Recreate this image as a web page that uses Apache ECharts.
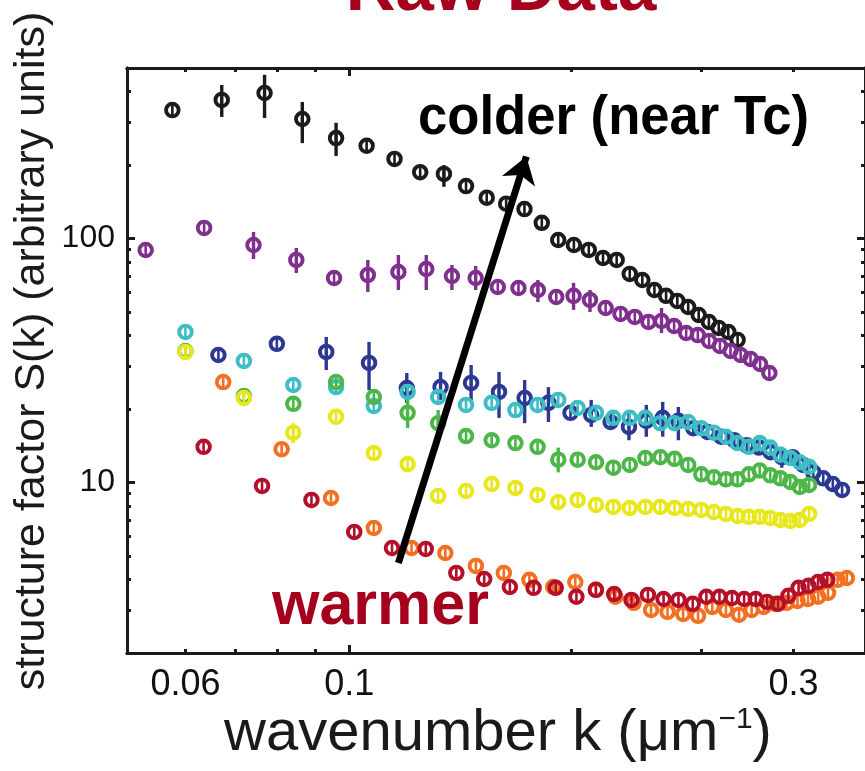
<!DOCTYPE html>
<html>
<head>
<meta charset="utf-8">
<title>Raw Data</title>
<script src="https://cdn.jsdelivr.net/npm/echarts@6/dist/echarts.min.js"></script>
<style>
  html, body { margin: 0; padding: 0; background: #fff; }
  #chart { width: 865px; height: 771px; }
</style>
</head>
<body>
<div id="chart"></div>
<script>
// wavenumber k (um^-1) and S(k) per temperature
const kBlack = [0.0576, 0.0672, 0.0768, 0.0864, 0.096, 0.1056, 0.1152, 0.1248, 0.1344, 0.144, 0.1536, 0.1632, 0.1728, 0.1824, 0.192, 0.2016, 0.2112, 0.2208, 0.2304, 0.24, 0.2496, 0.2592, 0.2688, 0.2784, 0.288, 0.2976, 0.3072, 0.3168, 0.3264, 0.336]
const sBlack = [336, 370, 395, 309, 258, 240, 212, 187, 184, 164, 147, 139, 132, 116, 98.6, 94.1, 89.8, 83.2, 81.7, 71.6, 67.6, 61.5, 58.2, 55.5, 52.4, 48.6, 45.5, 43.0, 41.4, 38.4]

const kPurple = [0.053, 0.0636, 0.0742, 0.0848, 0.0954, 0.106, 0.1166, 0.1272, 0.1378, 0.1484, 0.159, 0.1696, 0.1802, 0.1908, 0.2014, 0.212, 0.2226, 0.2332, 0.2438, 0.2544, 0.265, 0.2756, 0.2862, 0.2968, 0.3074, 0.318, 0.3286, 0.3392, 0.3498, 0.3604, 0.371]
const sPurple = [89.7, 110.5, 94.1, 81.7, 68.9, 70.9, 72.9, 75.0, 70.2, 68.9, 63.3, 62.7, 61.5, 57.6, 58.2, 56.0, 51.9, 49.1, 47.7, 45.5, 45.9, 43.8, 41.0, 40.2, 38.0, 36.3, 34.6, 33.3, 32.1, 30.6, 28.1]

const kBlue = [0.0665, 0.0798, 0.0931, 0.1064, 0.1197, 0.133, 0.1463, 0.1596, 0.1729, 0.1862, 0.1995, 0.2128, 0.2261, 0.2394, 0.2527, 0.266, 0.2793, 0.2926, 0.3059, 0.3192, 0.3325, 0.3458, 0.3591, 0.3724, 0.3857, 0.399, 0.4123, 0.4256, 0.4389, 0.4522, 0.4655]
const sBlue = [33.3, 37.0, 34.3, 30.9, 24.4, 24.6, 25.6, 23.5, 22.2, 21.2, 19.3, 18.9, 17.7, 16.9, 17.9, 18.4, 17.9, 16.7, 16.1, 15.4, 14.9, 14.2, 13.9, 13.3, 12.7, 12.7, 11.8, 11.0, 10.4, 9.86, 9.32]

// cyan, green and yellow share the same k grid
const kMid = [0.06, 0.072, 0.084, 0.096, 0.108, 0.12, 0.132, 0.144, 0.156, 0.168, 0.18, 0.192, 0.204, 0.216, 0.228, 0.24, 0.252, 0.264, 0.276, 0.288, 0.3, 0.312, 0.324, 0.336, 0.348, 0.36, 0.372, 0.384, 0.396, 0.408, 0.42]
const sCyan = [41.4, 31.5, 25.1, 24.6, 20.6, 23.5, 22.4, 20.8, 21.2, 19.8, 20.8, 21.8, 20.2, 19.3, 18.4, 18.4, 18.4, 17.5, 17.5, 17.7, 16.7, 16.0, 15.4, 14.5, 14.0, 14.5, 13.9, 13.0, 12.6, 12.1, 11.6]
const sGreen = [34.6, 22.6, 21.0, 25.8, 22.4, 19.3, 17.5, 15.5, 14.9, 14.5, 14.0, 12.4, 12.4, 12.1, 11.5, 11.8, 12.6, 12.7, 12.5, 11.8, 10.8, 10.5, 10.3, 10.3, 10.8, 11.2, 10.7, 10.4, 10.05, 9.59, 9.77]
const sYellow = [34.3, 22.2, 16.0, 18.6, 13.2, 11.9, 8.81, 9.23, 9.86, 9.50, 8.89, 8.32, 8.48, 8.09, 7.94, 7.86, 7.94, 7.94, 7.86, 7.79, 7.72, 7.57, 7.43, 7.29, 7.23, 7.23, 7.15, 7.02, 6.95, 7.02, 7.43]

const kOrange = [0.0675, 0.081, 0.0945, 0.108, 0.1215, 0.135, 0.1485, 0.162, 0.1755, 0.189, 0.2025, 0.216, 0.2295, 0.243, 0.2565, 0.27, 0.2835, 0.297, 0.3105, 0.324, 0.3375, 0.351, 0.3645, 0.378, 0.3915, 0.405, 0.4185, 0.432, 0.4455, 0.459, 0.4725]
const sOrange = [25.8, 13.7, 8.64, 6.51, 5.39, 5.14, 4.55, 4.26, 3.99, 3.73, 3.91, 3.63, 3.40, 3.21, 3.00, 2.95, 2.89, 2.84, 3.09, 3.00, 2.87, 3.00, 3.09, 3.18, 3.21, 3.27, 3.33, 3.40, 3.53, 3.99, 4.06]

const kRed = [0.0635, 0.0762, 0.0889, 0.1016, 0.1143, 0.127, 0.1397, 0.1524, 0.1651, 0.1778, 0.1905, 0.2032, 0.2159, 0.2286, 0.2413, 0.254, 0.2667, 0.2794, 0.2921, 0.3048, 0.3175, 0.3302, 0.3429, 0.3556, 0.3683, 0.381, 0.3937, 0.4064, 0.4191, 0.4318, 0.4445]
const sRed = [14.0, 9.68, 8.48, 6.27, 5.39, 5.34, 4.26, 4.02, 3.73, 3.70, 3.70, 3.40, 3.63, 3.49, 3.30, 3.46, 3.33, 3.30, 3.18, 3.40, 3.40, 3.36, 3.33, 3.33, 3.24, 3.18, 3.43, 3.70, 3.77, 3.91, 3.99]

// visible error bars: [k, low, high]
const barsBlack = [[0.0672, 315, 426], [0.0768, 312, 469], [0.0864, 246, 363], [0.096, 218, 298], [0.1344, 163, 200]]
const barsPurple = [[0.0742, 82.4, 106.4], [0.0848, 72.2, 91.5], [0.106, 60.4, 81.7], [0.1166, 61.5, 85.6], [0.1272, 61.5, 85.6], [0.1378, 61.5, 77.9], [0.1484, 61.5, 77.2], [0.1802, 54.9, 67.6], [0.2014, 51.0, 65.8], [0.212, 50.0, 61.5], [0.265, 41.0, 51.9]]
const barsBlue = [[0.0931, 28.9, 39.5], [0.1064, 23.9, 37.7], [0.1197, 21.2, 28.1], [0.133, 21.8, 28.4], [0.1463, 21.8, 30.3], [0.1596, 18.4, 28.4], [0.1729, 17.5, 26.3], [0.1862, 17.7, 24.6], [0.2128, 16.9, 21.8], [0.2394, 14.9, 19.3], [0.2527, 15.4, 20.8], [0.266, 15.4, 21.4], [0.2793, 14.9, 20.4], [0.3857, 11.5, 14.0]]
const barsGreen = [[0.12, 16.7, 21.8], [0.132, 15.2, 19.8], [0.192, 11.0, 13.9]]
const barsYellow = [[0.084, 14.5, 17.5]]

// arrow from "warmer" to "colder", in data units
const arrowFrom = [0.1166, 4.68]
const arrowTo = [0.1738, 217]

// axis ticks
const xMinorTicks = [0.06, 0.07, 0.08, 0.09, 0.2, 0.3, 0.4]
const xMajorTicks = [0.1]
const xLabelAt = [0.06, 0.1, 0.4]
const xLabelText = ['0.06', '0.1', '0.3']
const yMinorTicks = [3, 4, 5, 6, 7, 8, 9, 20, 30, 40, 50, 60, 70, 80, 90, 200, 300, 400]
const yMajorTicks = [10, 100]

const FONT = '"Liberation Sans", Arial, Helvetica, sans-serif'
const INK = '#1a1a1a'
const WARM = '#a6001f'

const chart = echarts.init(document.getElementById('chart'))

function xAxisDef(position, ticks, len, withLabels) {
  return {
    type: 'log', logBase: 10, min: 0.05, max: 0.5, position: position,
    axisLine: { show: true, onZero: false, lineStyle: { color: INK, width: 3 } },
    axisTick: { show: true, inside: true, length: len, customValues: ticks, lineStyle: { color: INK, width: 3 } },
    axisLabel: withLabels ? {
      show: true, customValues: xLabelAt, margin: 14, fontSize: 36, color: '#111', fontFamily: FONT,
      formatter: function (v) {
        const i = xLabelAt.findIndex(t => Math.abs(t - v) < 1e-6)
        return i >= 0 ? xLabelText[i] : ''
      }
    } : { show: false },
    splitLine: { show: false }
  }
}

function yAxisDef(position, ticks, len, withLabels) {
  return {
    type: 'log', logBase: 10, min: 2, max: 500, position: position,
    axisLine: { show: true, onZero: false, lineStyle: { color: INK, width: 3 } },
    axisTick: { show: true, inside: true, length: len, customValues: ticks, lineStyle: { color: INK, width: 3 } },
    axisLabel: withLabels ? {
      show: true, customValues: yMajorTicks, margin: 12, fontSize: 32, color: '#111', fontFamily: FONT,
      formatter: v => String(Math.round(v))
    } : { show: false },
    splitLine: { show: false }
  }
}

// open circle with a short vertical stroke, like the original markers
function markerSeries(k, s, color) {
  return {
    type: 'custom',
    xAxisIndex: 0, yAxisIndex: 0,
    silent: true,
    data: k.map((v, i) => [v, s[i]]),
    renderItem: function (params, api) {
      const p = api.coord([api.value(0), api.value(1)])
      return {
        type: 'group',
        children: [
          { type: 'line', shape: { x1: p[0], y1: p[1] - 5, x2: p[0], y2: p[1] + 5 }, style: { stroke: color, lineWidth: 2.6 } },
          { type: 'circle', shape: { cx: p[0], cy: p[1], r: 6.3 }, style: { fill: 'none', stroke: color, lineWidth: 3.9 } }
        ]
      }
    }
  }
}

function barSeries(bars, color) {
  return {
    type: 'custom',
    xAxisIndex: 0, yAxisIndex: 0,
    silent: true,
    data: bars,
    renderItem: function (params, api) {
      const lo = api.coord([api.value(0), api.value(1)])
      const hi = api.coord([api.value(0), api.value(2)])
      return { type: 'line', shape: { x1: lo[0], y1: lo[1], x2: hi[0], y2: hi[1] }, style: { stroke: color, lineWidth: 3.4 } }
    }
  }
}

const colors = {
  black: '#1b1b1b', purple: '#7f2f8e', blue: '#2c3892', cyan: '#3dbdc4',
  green: '#4cb748', yellow: '#e8e71c', orange: '#f36f21', red: '#b5102a'
}

const option = {
  backgroundColor: '#fff',
  animation: false,
  grid: { left: 127, top: 68, right: -2, bottom: 118, containLabel: false },
  xAxis: [
    xAxisDef('bottom', xMajorTicks, 8, true),
    xAxisDef('bottom', xMinorTicks, 4, false),
    xAxisDef('top', xMajorTicks, 8, false),
    xAxisDef('top', xMinorTicks, 4, false)
  ],
  yAxis: [
    yAxisDef('left', yMajorTicks, 8, true),
    yAxisDef('left', yMinorTicks, 4, false),
    yAxisDef('right', yMajorTicks, 8, false),
    yAxisDef('right', yMinorTicks, 4, false)
  ],
  series: [
    barSeries(barsBlack, colors.black), markerSeries(kBlack, sBlack, colors.black),
    barSeries(barsPurple, colors.purple), markerSeries(kPurple, sPurple, colors.purple),
    barSeries(barsBlue, colors.blue), markerSeries(kBlue, sBlue, colors.blue),
    markerSeries(kMid, sCyan, colors.cyan),
    barSeries(barsGreen, colors.green), markerSeries(kMid, sGreen, colors.green),
    barSeries(barsYellow, colors.yellow), markerSeries(kMid, sYellow, colors.yellow),
    markerSeries(kOrange, sOrange, colors.orange),
    markerSeries(kRed, sRed, colors.red),
    {
      type: 'lines',
      coordinateSystem: 'cartesian2d',
      xAxisIndex: 0, yAxisIndex: 0,
      silent: true,
      symbol: ['none', 'arrow'],
      symbolSize: [22, 26],
      lineStyle: { color: '#000', width: 7, opacity: 1 },
      data: [{ coords: [arrowFrom, arrowTo] }]
    }
  ],
  graphic: [
    {
      type: 'text', x: 501, y: -9,
      style: { text: 'Raw Data', fill: WARM, fontFamily: FONT, fontWeight: 'bold', fontSize: 69, align: 'center', verticalAlign: 'middle' }
    },
    {
      type: 'text', x: 418, y: 119, scaleX: 0.94, originX: 0, originY: 0,
      style: { text: 'colder (near Tc)', fill: '#000', fontFamily: FONT, fontWeight: 'bold', fontSize: 56, align: 'left', verticalAlign: 'middle' }
    },
    {
      type: 'text', x: 272, y: 607,
      style: { text: 'warmer', fill: WARM, fontFamily: FONT, fontWeight: 'bold', fontSize: 61, align: 'left', verticalAlign: 'middle' }
    },
    {
      type: 'text', x: 498, y: 734,
      style: {
        text: 'wavenumber k (\u03bcm{sup|\u22121})', fill: INK, fontFamily: FONT, fontSize: 58, align: 'center', verticalAlign: 'middle',
        rich: { sup: { fontSize: 30, fontFamily: FONT, fill: INK, verticalAlign: 'top', lineHeight: 58 } }
      }
    },
    {
      type: 'text', x: 32, y: 351, rotation: Math.PI / 2,
      style: { text: 'structure factor S(k) (arbitrary units)', fill: INK, fontFamily: FONT, fontSize: 43, align: 'center', verticalAlign: 'middle' }
    }
  ]
}

chart.setOption(option)
</script>
</body>
</html>
